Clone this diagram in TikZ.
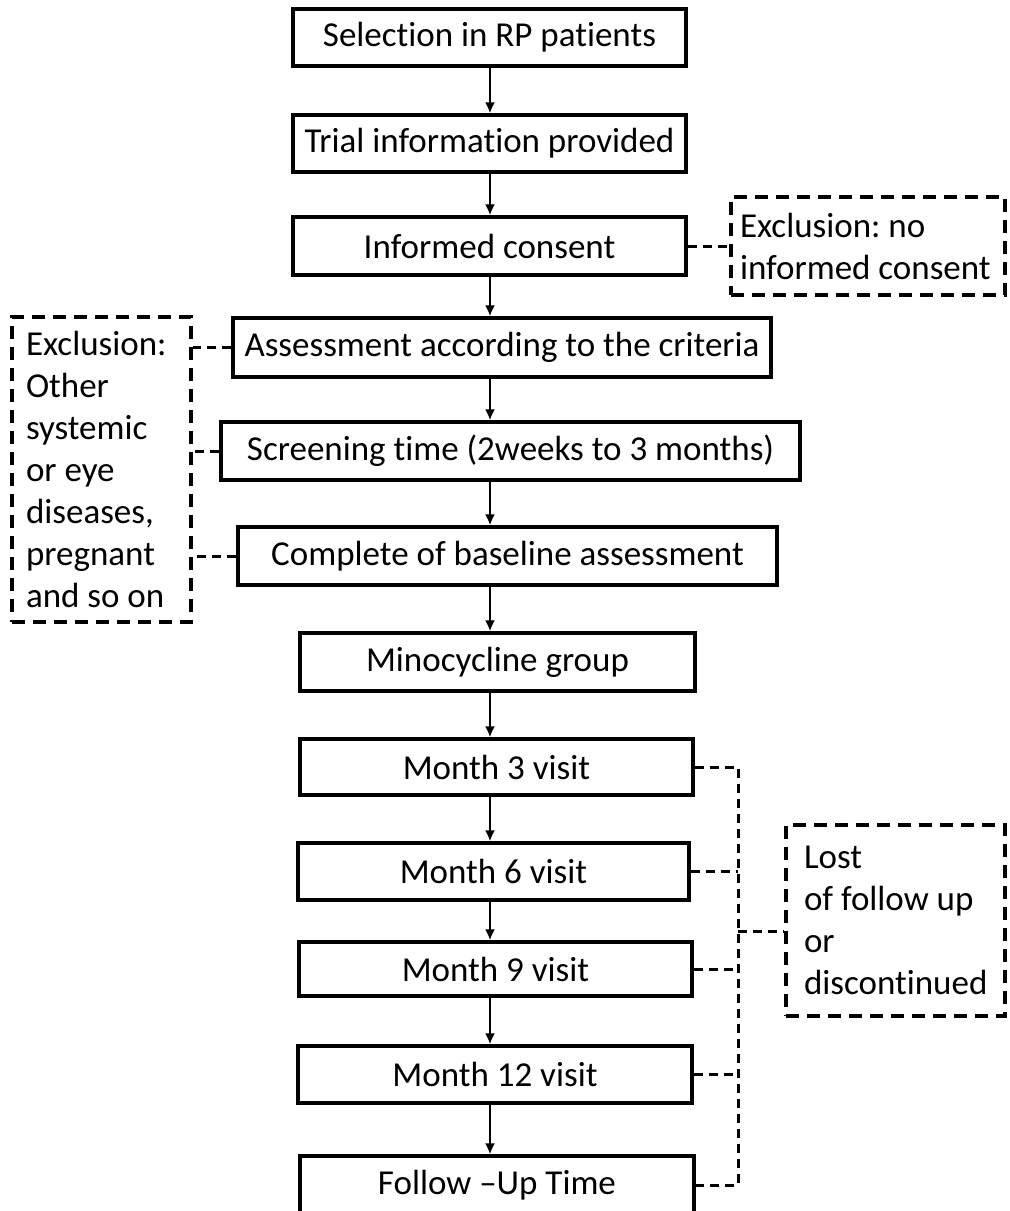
\documentclass[tikz,border=0pt]{standalone}
\usepackage{fontspec}
\setmainfont{Carlito}[Ligatures={TeX,NoCommon}]
\frenchspacing
\usetikzlibrary{shapes,arrows,arrows.meta,positioning,calc}
\tikzset{
    stepbox/.style={rectangle, draw, line width=1.6pt, inner sep=2pt, align=center, font=\fontsize{17.5}{21}\selectfont},
    exclbox/.style={rectangle, draw, line width=1.6pt, dash pattern=on 6.5pt off 4pt, align=flush left, inner ysep=2pt, font=\fontsize{17.5}{21}\selectfont},
    flow/.style={line width=1.3pt, -{Latex[length=5.5pt,width=5pt]}},
    dropline/.style={line width=1.5pt, dash pattern=on 4.5pt off 3pt}
}
\begin{document}
\begin{tikzpicture}[x=0.5pt,y=-0.5pt]
    \useasboundingbox (0,0) rectangle (1010,1211);
    % Main flow
    \node[stepbox, minimum width=196.5pt, minimum height=28.5pt] (sel) at (489.5,37.5) {Selection in RP patients};
    \node[stepbox, minimum width=196.5pt, minimum height=28.5pt] (trial) at (489.5,143.5) {Trial information provided};
    \node[stepbox, minimum width=196.5pt, minimum height=29pt] (consent) at (489.5,246) {Informed consent};
    \node[stepbox, minimum width=269pt, minimum height=29.5pt] (assess) at (502,347.5) {Assessment according to the criteria};
    \node[stepbox, minimum width=289.5pt, minimum height=29pt] (screen) at (510.5,451) {Screening time (2weeks to 3 months)};
    \node[stepbox, minimum width=269.5pt, minimum height=29pt] (baseline) at (507.5,556) {Complete of baseline assessment};
    \node[stepbox, minimum width=197.5pt, minimum height=29pt] (mino) at (497.5,662) {Minocycline group};
    \node[stepbox, minimum width=196.5pt, minimum height=28pt] (mthree) at (496.5,767) {Month 3 visit};
    \node[stepbox, minimum width=195.5pt, minimum height=28.5pt] (msix) at (493.5,871.5) {Month 6 visit};
    \node[stepbox, minimum width=196.5pt, minimum height=27pt] (mnine) at (495.5,969) {Month 9 visit};
    \node[stepbox, minimum width=197pt, minimum height=28.5pt] (mtwelve) at (495,1074.5) {Month 12 visit};
    \node[stepbox, minimum width=197pt, minimum height=29pt] (followup) at (497,1185) {Follow –Up Time};
    % Arrows down the spine
    \coordinate (spine) at (490,0);
    \draw[flow] (sel.south -| spine) -- (trial.north -| spine);
    \draw[flow] (trial.south -| spine) -- (consent.north -| spine);
    \draw[flow] (consent.south -| spine) -- (assess.north -| spine);
    \draw[flow] (assess.south -| spine) -- (screen.north -| spine);
    \draw[flow] (screen.south -| spine) -- (baseline.north -| spine);
    \draw[flow] (baseline.south -| spine) -- (mino.north -| spine);
    \draw[flow] (mino.south -| spine) -- (mthree.north -| spine);
    \draw[flow] (mthree.south -| spine) -- (msix.north -| spine);
    \draw[flow] (msix.south -| spine) -- (mnine.north -| spine);
    \draw[flow] (mnine.south -| spine) -- (mtwelve.north -| spine);
    \draw[flow] (mtwelve.south -| spine) -- (followup.north -| spine);
    % Exclusions
    \node[exclbox, inner xsep=4.5pt, text width=128pt, minimum height=49pt] (noconsent) at (868,246) {Exclusion: no\\informed consent};
    \node[exclbox, inner xsep=7pt, text width=75.5pt, minimum height=152.5pt] (otherdis) at (101.5,469.5) {Exclusion:\\Other\\systemic\\or eye\\diseases,\\pregnant\\and so on};
    \node[exclbox, inner xsep=9pt, text width=91.5pt, minimum height=95.5pt] (lost) at (895.5,920.5) {Lost\\of follow up\\or\\discontinued};
    \draw[dropline] (consent.east) -- (noconsent.west);
    \draw[dropline] (assess.west) -- (assess.west -| otherdis.east);
    \draw[dropline] (screen.west) -- (screen.west -| otherdis.east);
    \draw[dropline] (baseline.west) -- (baseline.west -| otherdis.east);
    % Lost to follow-up bracket
    \coordinate (brk) at (738,931);
    \draw[dropline] (mthree.east) -- (mthree.east -| brk) -- (followup.east -| brk) -- (followup.east);
    \draw[dropline] (msix.east) -- (msix.east -| brk);
    \draw[dropline] (mnine.east) -- (mnine.east -| brk);
    \draw[dropline] (mtwelve.east) -- (mtwelve.east -| brk);
    \draw[dropline] (brk) -- (brk -| lost.west);
\end{tikzpicture}
\end{document}
